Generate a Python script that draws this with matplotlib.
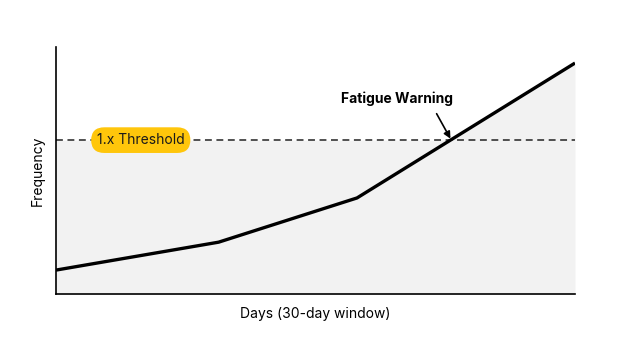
import numpy as np
import matplotlib
matplotlib.use("Agg")
import matplotlib.pyplot as plt

plt.rcParams['font.family'] = ['Inter', 'DejaVu Sans']

# values (days vs relative frequency)
days = [0, 9.4, 17.4, 30]
freq = [9.7, 21.0, 38.9, 93.5]
threshold = 62.3
threshold_label = "1.x Threshold"
warning_label = "Fatigue Warning"

fig = plt.figure(figsize=(6.24, 3.48), dpi=100, facecolor='white')
ax = fig.add_axes([0.0897, 0.155, 0.8318, 0.710])

x = np.array(days)
y = np.array(freq)
# fill under max(curve, threshold)
xf = np.linspace(x[0], x[-1], 600)
yf = np.interp(xf, x, y)
ax.fill_between(xf, 0, np.maximum(yf, threshold), color='#f2f2f2', lw=0, zorder=1)

ax.axhline(threshold, color='#222222', lw=1.1, ls=(0, (4.5, 3)), zorder=2)
ax.plot(x, y, color='black', lw=2.4, solid_capstyle='butt', zorder=3)

ax.text(4.9, threshold, threshold_label, ha='center', va='center', fontsize=10,
        color='#1a1a1a', zorder=5,
        bbox=dict(boxstyle='round,pad=0.42,rounding_size=0.95', fc='#ffc60b', ec='none'))

# crossing point of curve and threshold
xc = np.interp(threshold, y, x)
ax.text(19.7, 79.0, warning_label, ha='center', va='center', fontsize=10,
        fontweight='bold', zorder=5)
ax.annotate("", xy=(xc, threshold + 0.6), xytext=(22.0, 73.0),
            arrowprops=dict(arrowstyle='-|>', color='black', lw=1.2,
                            mutation_scale=10, shrinkA=0, shrinkB=0), zorder=5)

ax.set_xlim(0, 30)
ax.set_ylim(0, 100)
for s in ['top', 'right']:
    ax.spines[s].set_visible(False)
ax.spines['left'].set_linewidth(1.2)
ax.spines['bottom'].set_linewidth(1.2)
ax.set_xticks([])
ax.set_yticks([])
ax.set_xlabel("Days (30-day window)", fontsize=10, labelpad=9)
ax.set_ylabel("Frequency", fontsize=10, labelpad=8)

fig.savefig("out.png", dpi=100)
